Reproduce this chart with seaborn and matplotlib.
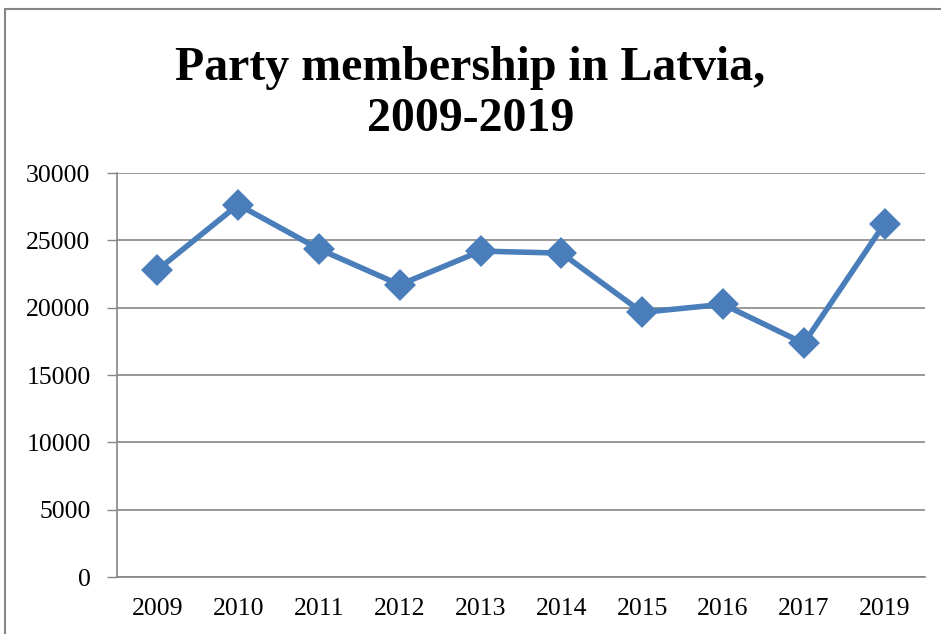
import numpy as np
import pandas as pd
import matplotlib.pyplot as plt
import seaborn as sns
from matplotlib.patches import Rectangle

sns.set_style("white")
plt.rcParams['font.family'] = ['Liberation Serif', 'DejaVu Serif']
plt.rcParams['text.color'] = 'black'
plt.rcParams['xtick.color'] = 'black'
plt.rcParams['ytick.color'] = 'black'

# Party membership
years = ['2009', '2010', '2011', '2012', '2013', '2014', '2015', '2016', '2017', '2019']
members = [22800, 27650, 24350, 21700, 24200, 24050, 19650, 20250, 17350, 26250]

df = pd.DataFrame({'year': years, 'members': members})

fig = plt.figure(figsize=(9.41, 6.34), dpi=100)
ax = fig.add_axes([117 / 941, 57 / 634, 808 / 941, 404 / 634])

line_color = '#4a7ebb'
grid_color = '#868686'

sns.pointplot(data=df, x='year', y='members', order=years, ax=ax,
              color=line_color, markers='D', markersize=13, linewidth=4,
              errorbar=None)

ax.set_xlim(-0.5, len(years) - 0.5)
ax.set_ylim(0, 30000)
ax.set_yticks(np.arange(0, 30001, 5000))
ax.yaxis.grid(True, color=grid_color, linewidth=1.2)
ax.set_axisbelow(True)

# category ticks between the labels, as in the spreadsheet style
ax.set_xticks(np.arange(len(years) + 1) - 0.5, minor=True)
ax.tick_params(axis='x', which='major', length=0, pad=15, labelsize=18.5,
               labelcolor='black')
ax.tick_params(axis='x', which='minor', length=6, color=grid_color, width=1)
ax.tick_params(axis='y', which='major', length=7, color=grid_color, width=1,
               labelsize=18.5, pad=12, left=True, labelcolor='black')

for side in ['top', 'right']:
    ax.spines[side].set_visible(False)
for side in ['left', 'bottom']:
    ax.spines[side].set_color(grid_color)
    ax.spines[side].set_linewidth(1.2)

ax.set_xlabel('')
ax.set_ylabel('')

fig.text(0.5, 1 - 131 / 634, 'Party membership in Latvia,\n2009-2019',
         ha='center', va='baseline', fontsize=34.5, fontweight='bold',
         linespacing=1.2, color='black')

# outer chart border
fig.patches.append(Rectangle((5 / 941, -0.05), 1.0, 1 - 9 / 634 + 0.05,
                             transform=fig.transFigure, fill=False,
                             edgecolor=grid_color, linewidth=1.5))

plt.savefig('out.png', dpi=100)
plt.close()
